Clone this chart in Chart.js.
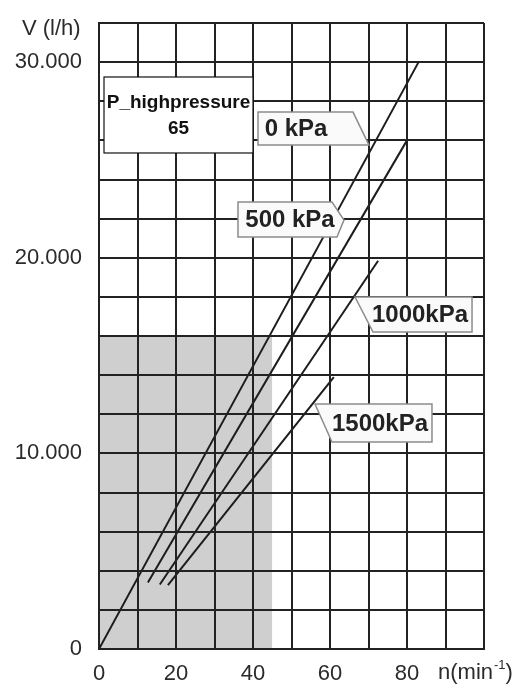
<!DOCTYPE html>
<html>
<head>
<meta charset="utf-8">
<script src="https://cdn.jsdelivr.net/npm/chart.js@4.4.0/dist/chart.umd.min.js"></script>
<style>
  body { margin: 0; background: #fff; }
  canvas { display: block; }
</style>
</head>
<body>
<canvas id="chart" width="515" height="685"></canvas>
<script>
// speed n (min-1) and flow V (l/h) for each pressure curve
const rpm0 = [0, 83];
const flow0 = [0, 30000];
const rpm500 = [12.7, 80];
const flow500 = [3400, 26000];
const rpm1000 = [15.8, 72.5];
const flow1000 = [3300, 19850];
const rpm1500 = [17.9, 61];
const flow1500 = [3270, 13900];

// shaded working range
const shadeRpm = [0, 45];
const shadeFlow = [16000, 16000];

const xTickLabels = [0, 20, 40, 60, 80];
const yTickLabels = [0, 10000, 20000, 30000];

const curveNames = ['0 kPa', '500 kPa', '1000kPa', '1500kPa'];

function toPoints(xs, ys) {
  return xs.map((x, i) => ({ x: x, y: ys[i] }));
}

function fmtThousands(v) {
  return String(v).replace(/\B(?=(\d{3})+(?!\d))/g, '.');
}

const FONT = '"Liberation Sans", Arial, sans-serif';

// callout boxes, anchored in data units, shape in px
const callouts = [
  { text: curveNames[0], x: 41.3, y: 27445, shape: [[0,0],[95,0],[111,33],[0,33]], tx: 38, ty: 17 },
  { text: curveNames[1], x: 36.1, y: 22845, shape: [[0,0],[94,0],[106,18],[99,35],[0,35]], tx: 52, ty: 18 },
  { text: curveNames[2], x: 66.5, y: 17990, shape: [[0,0],[117,0],[117,35],[18,35]], tx: 65, ty: 18 },
  { text: curveNames[3], x: 56.1, y: 12520, shape: [[0,0],[117,0],[117,38],[17,38]], tx: 65, ty: 20 }
];

const overlay = {
  id: 'overlay',
  afterDraw(chart) {
    const ctx = chart.ctx;
    const xs = chart.scales.x, ys = chart.scales.y;
    ctx.save();

    // axis titles
    ctx.fillStyle = '#2b2b2b';
    ctx.font = '22px ' + FONT;
    ctx.textBaseline = 'alphabetic';
    ctx.textAlign = 'left';
    ctx.fillText('V (l/h)', 22, 35);
    let nx = 438;
    ctx.fillText('n(min', nx, 679);
    nx += ctx.measureText('n(min').width;
    ctx.font = '13px ' + FONT;
    ctx.fillText('-1', nx + 1, 669);
    nx += ctx.measureText('-1').width + 1;
    ctx.font = '22px ' + FONT;
    ctx.fillText(')', nx, 679);

    // curve callouts
    callouts.forEach(c => {
      const px = xs.getPixelForValue(c.x);
      const py = ys.getPixelForValue(c.y);
      ctx.beginPath();
      c.shape.forEach((p, i) => {
        if (i === 0) ctx.moveTo(px + p[0], py + p[1]);
        else ctx.lineTo(px + p[0], py + p[1]);
      });
      ctx.closePath();
      ctx.fillStyle = '#fafafa';
      ctx.fill();
      ctx.lineWidth = 1.5;
      ctx.strokeStyle = '#8c8c8c';
      ctx.stroke();
      ctx.fillStyle = '#222';
      ctx.font = 'bold 24px ' + FONT;
      ctx.textAlign = 'center';
      ctx.textBaseline = 'middle';
      ctx.fillText(c.text, px + c.tx, py + c.ty);
    });

    // model box
    const bx = xs.getPixelForValue(1.3);
    const by = ys.getPixelForValue(29240);
    ctx.fillStyle = '#fff';
    ctx.fillRect(bx, by, 149, 76);
    ctx.lineWidth = 1.2;
    ctx.strokeStyle = '#111';
    ctx.strokeRect(bx, by, 149, 76);
    ctx.fillStyle = '#111';
    ctx.font = 'bold 19px ' + FONT;
    ctx.textAlign = 'center';
    ctx.textBaseline = 'middle';
    ctx.fillText('P_highpressure', bx + 74.5, by + 26);
    ctx.fillText('65', bx + 74.5, by + 52);

    ctx.restore();
  }
};

const lineStyle = {
  showLine: true,
  borderColor: '#1c1c1c',
  borderWidth: 2,
  pointRadius: 0,
  fill: false,
  order: 0
};

new Chart(document.getElementById('chart'), {
  type: 'scatter',
  data: {
    datasets: [
      {
        label: 'shade',
        data: toPoints(shadeRpm, shadeFlow),
        showLine: true,
        borderWidth: 0,
        borderColor: 'rgba(0,0,0,0)',
        backgroundColor: '#cfcfcf',
        pointRadius: 0,
        fill: 'origin',
        order: 1
      },
      Object.assign({ label: curveNames[0], data: toPoints(rpm0, flow0) }, lineStyle),
      Object.assign({ label: curveNames[1], data: toPoints(rpm500, flow500) }, lineStyle),
      Object.assign({ label: curveNames[2], data: toPoints(rpm1000, flow1000) }, lineStyle),
      Object.assign({ label: curveNames[3], data: toPoints(rpm1500, flow1500) }, lineStyle)
    ]
  },
  options: {
    responsive: false,
    animation: false,
    devicePixelRatio: 1,
    layout: { padding: { top: 0, right: 31, left: 0, bottom: 0 } },
    plugins: {
      legend: { display: false },
      tooltip: { enabled: false }
    },
    scales: {
      x: {
        type: 'linear',
        min: 0,
        max: 100,
        afterFit(scale) { scale.height = 36; },
        grid: { color: '#222', lineWidth: 2, drawTicks: false, z: 1 },
        border: { color: '#222', width: 2, z: 1 },
        ticks: {
          stepSize: 10,
          padding: 12,
          maxRotation: 0,
          autoSkip: false,
          color: '#2b2b2b',
          font: { family: FONT, size: 22 },
          callback: v => xTickLabels.includes(v) ? String(v) : ''
        }
      },
      y: {
        type: 'linear',
        min: 0,
        max: 32000,
        afterFit(scale) {
          scale.width = 99;
          scale.paddingTop = 23;
          scale.paddingBottom = 0;
        },
        grid: { color: '#222', lineWidth: 2, drawTicks: false, z: 1 },
        border: { color: '#222', width: 2, z: 1 },
        ticks: {
          stepSize: 2000,
          padding: 17,
          autoSkip: false,
          color: '#2b2b2b',
          font: { family: FONT, size: 22 },
          callback: v => yTickLabels.includes(v) ? fmtThousands(v) : ''
        }
      }
    }
  },
  plugins: [overlay]
});
</script>
</body>
</html>
